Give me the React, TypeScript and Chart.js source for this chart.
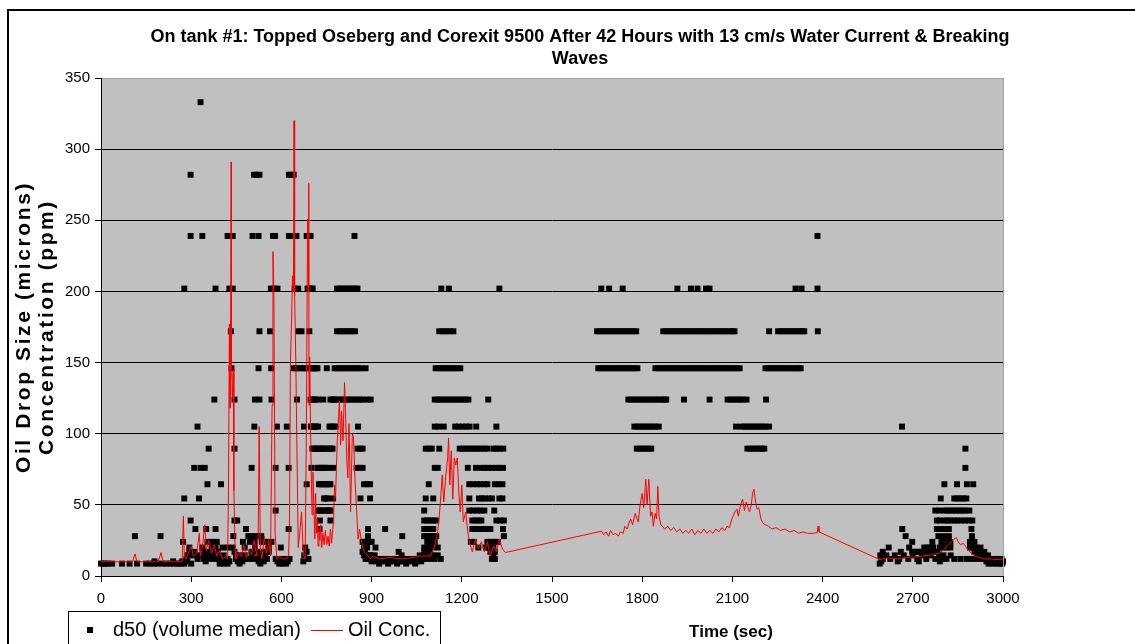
import React, { useEffect, useRef } from 'react';
import { Chart, registerables } from 'chart.js';

Chart.register(...registerables);

const W = 1135;
const H = 644;
const PLOT_LEFT = 101;
const PLOT_RIGHT = 1003;
const PLOT_TOP = 78;
const PLOT_BOTTOM = 576;
const FONT = 'Arial, "Liberation Sans", sans-serif';

const titleLines = [
  'On tank #1: Topped Oseberg and Corexit 9500 After 42 Hours with 13 cm/s Water Current & Breaking',
  'Waves',
];
const yTitleLines = ['Oil Drop Size (microns)', 'Concentration (ppm)'];
const xTitle = 'Time (sec)';
const legendLabels = ['d50 (volume median)', 'Oil Conc.'];

const xTicks = [0, 300, 600, 900, 1200, 1500, 1800, 2100, 2400, 2700, 3000];
const yTicks = [0, 50, 100, 150, 200, 250, 300, 350];

// d50 size bins (microns) and the times (sec) at which each bin was recorded
const t333 = [331];
const t282 = [298, 509, 518, 527, 625, 633, 641];
const t239 = [298, 337, 421, 429, 438, 504, 524, 572, 579, 625, 633, 642, 650, 684, 693, 697, 843, 2383];
const t202 = [277, 381, 427, 438, 565, 575, 587, 644, 656, 687, 694, 700, 704, 785, 795, 805, 815, 825, 835, 845, 853, 1132, 1157, 1325, 1664, 1690, 1735, 1917, 1962, 1984, 2012, 2024, 2310, 2330, 2383];
const t172 = [432, 527, 562, 656, 667, 693, 785, 795, 805, 815, 825, 835, 845, 1125, 1137, 1148, 1160, 1172,
  1650, 1660, 1670, 1680, 1690, 1700, 1710, 1720, 1730, 1740, 1750, 1760, 1770, 1780,
  1870, 1880, 1890, 1900, 1910, 1920, 1930, 1940, 1950, 1960, 1970, 1980, 1990, 2000, 2010, 2020, 2030, 2040, 2050, 2060, 2070, 2080, 2090, 2100, 2107,
  2222, 2252, 2262, 2272, 2282, 2292, 2302, 2312, 2322, 2332, 2339, 2384];
const t146 = [434, 524, 566, 641, 652, 664, 675, 684, 693, 698, 704, 710, 715, 720, 751, 777, 785, 795, 805, 815, 825, 835, 845, 855, 865, 880,
  1113, 1123, 1133, 1143, 1153, 1163, 1173, 1183, 1195,
  1654, 1664, 1674, 1684, 1694, 1704, 1714, 1724, 1734, 1744, 1754, 1764, 1774, 1784,
  1844, 1854, 1864, 1874, 1884, 1894, 1904, 1914, 1924, 1934, 1944, 1954, 1964, 1974, 1984, 1994, 2004, 2014, 2024, 2034, 2044, 2054, 2064, 2074, 2084, 2094, 2104, 2114, 2124,
  2210, 2220, 2230, 2240, 2250, 2260, 2270, 2280, 2290, 2300, 2310, 2320, 2327];
const t124 = [377, 444, 512, 527, 567, 652, 697, 703, 709, 714, 722, 739, 763, 769, 774, 780, 790, 800, 810, 820, 830, 840, 850, 860, 870, 885, 897,
  1110, 1120, 1130, 1140, 1150, 1160, 1170, 1180, 1190, 1200, 1210, 1222, 1288,
  1754, 1764, 1774, 1784, 1794, 1804, 1814, 1824, 1834, 1844, 1854, 1864, 1874, 1880,
  1939, 2024, 2084, 2094, 2104, 2114, 2124, 2134, 2147, 2212];
const t105 = [321, 510, 585, 618, 675, 698, 704, 710, 715, 722, 760, 766, 773, 780, 855,
  1110, 1122, 1140, 1178, 1190, 1202, 1214, 1226, 1248, 1315,
  1774, 1784, 1794, 1804, 1814, 1824, 1834, 1844, 1855,
  2112, 2130, 2140, 2150, 2160, 2170, 2180, 2190, 2200, 2210, 2222, 2664];
const t90 = [358, 444, 703, 709, 714, 720, 727, 732, 738, 743, 754, 759, 765, 770, 853, 863, 870,
  1080, 1090, 1100, 1125, 1193, 1203, 1213, 1223, 1233, 1243, 1253, 1263, 1275, 1285, 1305, 1315, 1325, 1338,
  1782, 1792, 1802, 1812, 1822, 1830, 2150, 2160, 2170, 2180, 2190, 2198, 2206, 2875];
const t76 = [310, 331, 345, 501, 581, 624, 700, 720, 725, 731, 737, 742, 748, 756, 772, 850, 860, 870,
  1110, 1120, 1220, 1247, 1265, 1275, 1287, 1300, 1315, 1325, 1337, 2875];
const t64 = [354, 399, 684, 725, 731, 737, 742, 748, 754, 759, 763, 875, 885, 895,
  1090, 1225, 1237, 1250, 1262, 1275, 1285, 1310, 1322, 1335, 2805, 2847, 2880, 2901];
const t54 = [277, 326, 742, 748, 754, 772, 863, 895, 1080, 1105, 1225, 1257, 1267, 1277, 1290, 1300, 1325, 1335,
  2793, 2838, 2848, 2858, 2868, 2878];
const t46 = [581, 722, 728, 732, 743, 749, 755, 760, 763, 1075, 1225, 1237, 1250, 1262, 1275, 1308,
  2775, 2788, 2805, 2815, 2825, 2835, 2845, 2855, 2865, 2875, 2888];
const t39 = [298, 444, 453, 728, 763, 1075, 1085, 1095, 1105, 1115, 1235, 1245, 1255, 1265, 1315, 1328, 1340,
  2780, 2790, 2805, 2815, 2825, 2838, 2848, 2861, 2873, 2886, 2898];
const t33 = [314, 350, 381, 482, 624, 727, 888, 945, 1075, 1085, 1095, 1105, 1235, 1245, 1258, 1270, 1282, 1295, 1337,
  2665, 2780, 2793, 2808, 2820, 2895];
const t28 = [113, 198, 440, 490, 501, 512, 524, 533, 888, 1002, 1075, 1085, 1095, 1105, 1115, 1340,
  2676, 2785, 2803, 2820, 2897];
const t24 = [273, 354, 368, 385, 472, 495, 512, 535, 547, 567, 870, 880, 890, 900, 1085, 1097, 1110, 1230, 1240, 1285, 1297, 1308, 1320,
  2698, 2765, 2795, 2805, 2815, 2825, 2890, 2898, 2905];
const t20 = [294, 337, 368, 381, 404, 421, 438, 478, 512, 558, 598, 679, 875, 885, 913, 1075, 1088, 1100, 1120, 1255, 1280, 1292, 1305,
  2620, 2688, 2738, 2748, 2758, 2768, 2790, 2800, 2810, 2825, 2890, 2900, 2910, 2925];
const t17 = [294, 311, 338, 354, 372, 388, 444, 501, 518, 535, 543, 558, 684, 870, 878, 990, 1075, 1085, 1095, 1295, 1310,
  2600, 2660, 2698, 2708, 2718, 2728, 2738, 2748, 2758, 2768, 2782, 2905, 2915, 2925, 2938];
const t14 = [287, 304, 321, 341, 354, 372, 388, 408, 449, 463, 478, 501, 524, 547, 676, 875, 885, 893, 897, 910, 1000, 1060, 1078, 1090, 1105, 1120, 1305,
  2592, 2612, 2640, 2670, 2700, 2730, 2760, 2788, 2802, 2826, 2915, 2932, 2950];
const t12 = [284, 321, 341, 361, 377, 395, 411, 421, 449, 461, 475, 490, 504, 518, 535, 552, 581, 598, 616, 627, 690,
  880, 890, 898, 905, 920, 935, 950, 965, 980, 995, 1010, 1025, 1040, 1055, 1070, 1080, 1095, 1110, 1130, 1300, 1310,
  2600, 2625, 2655, 2685, 2715, 2745, 2775, 2798, 2812, 2838, 2858, 2878, 2893, 2910, 2925, 2940, 2955, 2965, 2975, 2985, 2995];
const t10 = [178, 240, 270, 287, 348, 395, 412, 427, 455, 470, 524, 541, 587, 604, 621, 673,
  900, 915, 930, 945, 960, 975, 990, 1005, 1020, 1035, 1050, 1065,
  2595, 2650, 2720, 2790, 2945, 2960, 2970, 2980, 2990, 3000];
const t9 = [0, 7, 15, 22, 37, 70, 95, 120, 150, 163, 175, 187, 205, 217, 230, 243, 255, 265, 277, 300, 395, 408, 421, 461, 530, 593, 604, 616,
  925, 955, 985, 1015, 1045, 2590, 2952, 2965, 2978, 2990, 2998];

const d50Bins = [333, 282, 239, 202, 172, 146, 124, 105, 89.5, 76, 64.5, 54.5, 46, 39, 33, 28, 24, 20, 17, 14.5, 12, 10.3, 8.7];
const d50TimesPerBin = [t333, t282, t239, t202, t172, t146, t124, t105, t90, t76, t64, t54, t46, t39, t33, t28, t24, t20, t17, t14, t12, t10, t9];

// Oil concentration (ppm) line
const concTime = [
  0, 40, 80, 105, 113, 120, 160, 190, 200, 206, 240, 270, 274, 277, 283, 294, 300, 307, 318, 327, 331, 337, 345, 350, 358, 368, 377, 385, 395, 404,
  415, 421, 424, 427, 429, 431, 433, 434, 437, 440, 442, 446, 449, 459, 467, 475, 484, 492, 501, 509, 518, 523, 526, 530, 535, 543, 550, 558, 564,
  569, 572, 575, 579, 585, 593, 604, 616, 624, 627, 630, 634, 637, 640, 642, 644, 648, 651, 656, 661, 667, 673, 679, 683, 687, 690, 691, 692, 694,
  697, 700, 702, 705, 708, 711, 714, 716, 719, 722, 725, 728, 731, 734, 738, 742, 746, 751, 755, 759, 763, 767, 772, 774, 777, 780, 785, 790, 793,
  797, 800, 805, 810, 814, 817, 821, 825, 830, 836, 840, 845, 850, 855, 860, 868, 875, 885, 895, 905, 925,
  960, 1000, 1040, 1060, 1075, 1095, 1110, 1120, 1127, 1135, 1140, 1147, 1153, 1156, 1160, 1165, 1170, 1175, 1180, 1185, 1190, 1195, 1200, 1205,
  1213, 1220, 1225, 1235, 1245, 1255, 1265, 1275, 1285, 1295, 1305, 1315, 1325, 1335, 1345,
  1665, 1672, 1680, 1688, 1695, 1703, 1712, 1720, 1728, 1737, 1742, 1750, 1757, 1762, 1768, 1777, 1783, 1787, 1793, 1800, 1805, 1812, 1816, 1822,
  1828, 1833, 1837, 1843, 1848, 1852, 1856, 1862, 1867, 1875, 1885, 1895, 1905, 1915, 1925, 1935, 1945, 1955, 1965, 1975, 1985, 1995, 2005, 2015,
  2025, 2035, 2045, 2055, 2065, 2075, 2082, 2090, 2098, 2102, 2108, 2115, 2120, 2127, 2134, 2140, 2146, 2152, 2157, 2163, 2167, 2172, 2177, 2182,
  2188, 2195, 2202, 2210, 2220, 2232, 2245, 2260, 2275, 2290, 2305, 2320, 2335, 2350, 2370, 2382, 2385, 2388,
  2590, 2600, 2620, 2650, 2680, 2710, 2735, 2765, 2788, 2806, 2818, 2828, 2838, 2845, 2851, 2859, 2868, 2875, 2885, 2895, 2907, 2920, 2940, 2960,
  2980, 3000,
];
const concValue = [
  10, 10, 10, 10, 15.5, 10, 10, 10, 16.5, 10, 10, 10, 42, 14, 12, 18, 21, 14, 16, 30, 14, 20, 36, 18, 25, 16, 22, 14, 18, 12,
  14, 12, 60, 177, 118, 170, 291, 150, 125, 145, 60, 18, 12, 16, 14, 22, 13, 18, 15, 25, 14, 30, 105, 20, 12, 28, 16, 24, 14,
  120, 228, 200, 30, 12, 14, 12, 12, 14, 40, 150, 180, 211, 200, 320, 197, 150, 100, 20, 30, 45, 15, 12, 100, 251, 200, 276, 120, 154,
  102, 64, 43, 73, 50, 26, 58, 30, 40, 21, 34, 25, 36, 20, 30, 22, 32, 22, 28, 21, 33, 23, 36, 45, 64, 55, 90, 112, 123,
  92, 116, 95, 136, 110, 83, 69, 107, 45, 100, 97, 66, 47, 26, 33, 22, 17, 15, 12, 14, 12,
  13, 12, 13, 14, 14, 14, 21, 31, 47, 71, 52, 71, 83, 97, 64, 88, 54, 83, 78, 83, 59, 45, 64, 38,
  45, 31, 24, 17, 26, 19, 24, 17, 24, 14, 21, 17, 26, 19, 16.5,
  31.5, 29, 31, 28, 32, 29, 30, 28, 31, 30, 35, 33, 38, 40, 36, 44, 40, 38, 50, 58, 48, 68, 50, 68,
  42, 45, 35, 44, 40, 63, 42, 36, 35, 33, 35, 32, 34, 31, 33, 30, 32, 30, 33, 29, 32, 30, 33, 30,
  32, 30, 33, 31, 34, 32, 35, 34, 40, 42, 45, 47, 42, 50, 54, 46, 52, 48, 45, 50, 58, 61, 52, 47,
  48, 40, 37, 36, 35, 33, 34, 32, 33, 31, 32, 30, 31, 30, 30, 30.5, 35, 31,
  11.5, 12, 12.5, 12, 13, 13.5, 14, 15, 16, 19, 22, 24, 26, 27, 24, 22, 23, 21, 18, 16, 14, 13, 12, 12,
  11.5, 12,
];

const d50Points = d50Bins.flatMap((bin, i) => d50TimesPerBin[i].map((t) => ({ x: t, y: bin })));
const concPoints = concTime.map((t, i) => ({ x: t, y: concValue[i] }));

const decorPlugin = {
  id: 'decor',
  beforeDraw(chart: any) {
    const { ctx, chartArea } = chart;
    ctx.save();
    ctx.fillStyle = '#ffffff';
    ctx.fillRect(0, 0, W, H);
    ctx.fillStyle = '#c0c0c0';
    ctx.fillRect(chartArea.left, chartArea.top, chartArea.right - chartArea.left, chartArea.bottom - chartArea.top);
    ctx.strokeStyle = '#000000';
    ctx.lineWidth = 2;
    ctx.beginPath();
    ctx.moveTo(8, H + 5);
    ctx.lineTo(8, 10);
    ctx.lineTo(W + 5, 10);
    ctx.stroke();
    ctx.restore();
  },
  afterDraw(chart: any) {
    const { ctx, chartArea } = chart;
    ctx.save();
    ctx.strokeStyle = '#a0a0a0';
    ctx.lineWidth = 1;
    ctx.beginPath();
    ctx.moveTo(chartArea.right + 0.5, chartArea.top);
    ctx.lineTo(chartArea.right + 0.5, chartArea.bottom);
    ctx.stroke();

    ctx.fillStyle = '#000000';
    ctx.font = `bold 18px ${FONT}`;
    ctx.textAlign = 'center';
    ctx.textBaseline = 'middle';
    ctx.fillText(titleLines[0], 580, 37);
    ctx.fillText(titleLines[1], 580, 59);

    ctx.font = `bold 17px ${FONT}`;
    ctx.fillText(xTitle, 731, 632);

    ctx.save();
    ctx.translate(0, (chartArea.top + chartArea.bottom) / 2);
    ctx.rotate(-Math.PI / 2);
    ctx.font = `bold 21px ${FONT}`;
    (ctx as any).letterSpacing = '2.6px';
    ctx.fillText(yTitleLines[0], 0, 24);
    ctx.fillText(yTitleLines[1], 0, 47);
    ctx.restore();

    ctx.strokeStyle = '#000000';
    ctx.lineWidth = 1;
    ctx.strokeRect(68.5, 611.5, 372, 50);
    ctx.fillRect(87, 627, 6, 6);
    ctx.font = `20px ${FONT}`;
    ctx.textAlign = 'left';
    ctx.fillText(legendLabels[0], 113, 630);
    ctx.strokeStyle = '#ff0000';
    ctx.beginPath();
    ctx.moveTo(311, 630.5);
    ctx.lineTo(343, 630.5);
    ctx.stroke();
    ctx.fillText(legendLabels[1], 348, 630);
    ctx.restore();
  },
};

export default function App() {
  const ref = useRef<HTMLCanvasElement>(null);
  useEffect(() => {
    document.body.style.margin = '0';
    const canvas = ref.current;
    if (!canvas) return;
    const chart = new Chart(canvas, {
      type: 'scatter',
      data: {
        datasets: [
          {
            label: legendLabels[0],
            data: d50Points,
            showLine: false,
            pointStyle: 'rect',
            pointRadius: 4.2,
            pointHoverRadius: 4.2,
            backgroundColor: '#000000',
            borderColor: '#000000',
            borderWidth: 0,
            order: 2,
            clip: 6,
          },
          {
            label: legendLabels[1],
            data: concPoints,
            showLine: true,
            pointRadius: 0,
            borderColor: '#ff0000',
            backgroundColor: '#ff0000',
            borderWidth: 1,
            tension: 0,
            order: 1,
          },
        ],
      },
      options: {
        responsive: false,
        animation: false,
        devicePixelRatio: 1,
        events: [],
        layout: { padding: { left: 0, right: W - PLOT_RIGHT, top: PLOT_TOP, bottom: 0 } },
        plugins: {
          legend: { display: false },
          title: { display: false },
          tooltip: { enabled: false },
        },
        scales: {
          x: {
            type: 'linear',
            min: 0,
            max: 3000,
            afterFit: (s: any) => { s.height = H - PLOT_BOTTOM; },
            afterBuildTicks: (s: any) => { s.ticks = xTicks.map((v) => ({ value: v })); },
            ticks: {
              color: '#000',
              font: { family: FONT, size: 15 },
              padding: 8,
              maxRotation: 0,
              autoSkip: false,
              callback: (v: any) => String(v),
            },
            grid: { drawOnChartArea: false, drawTicks: true, tickLength: 6, color: '#000', tickColor: '#000' },
            border: { display: true, color: '#000', width: 1 },
          },
          y: {
            type: 'linear',
            min: 0,
            max: 350,
            afterFit: (s: any) => { s.width = PLOT_LEFT; },
            afterBuildTicks: (s: any) => { s.ticks = yTicks.map((v) => ({ value: v })); },
            ticks: { color: '#000', font: { family: FONT, size: 15 }, padding: 5, autoSkip: false, callback: (v: any) => String(v) },
            grid: {
              drawOnChartArea: true,
              drawTicks: true,
              tickLength: 6,
              tickColor: '#000',
              color: (c: any) => (c.tick && c.tick.value === 350 ? '#a0a0a0' : '#000000'),
            },
            border: { display: true, color: '#000', width: 1 },
          },
        },
      },
      plugins: [decorPlugin],
    } as any);
    return () => chart.destroy();
  }, []);
  return (
    <div style={{ position: 'absolute', left: 0, top: 0, width: W, height: H, background: '#fff' }}>
      <canvas ref={ref} width={W} height={H} style={{ width: W, height: H, display: 'block' }} />
    </div>
  );
}
